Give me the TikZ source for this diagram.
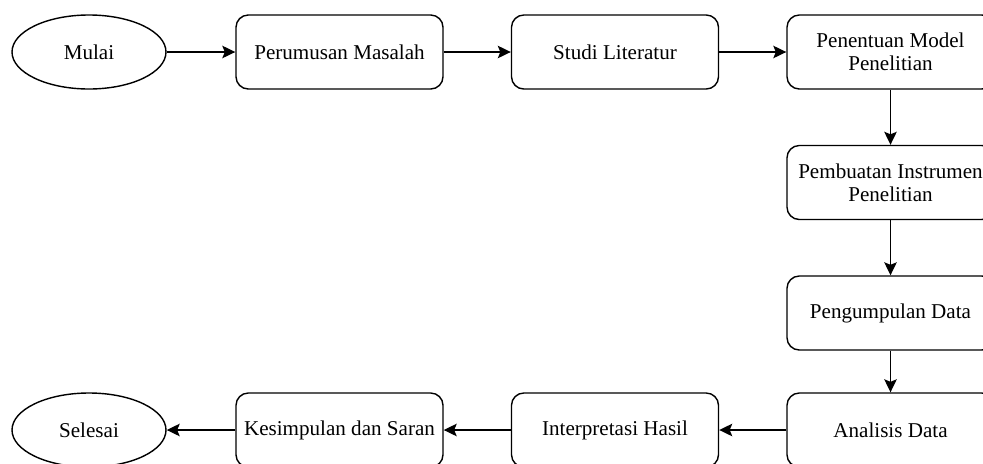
\documentclass[tikz,border=0pt]{standalone}
\usepackage{fontspec}
\setmainfont{Liberation Serif}
\usepackage{tikz}
\usetikzlibrary{arrows.meta,shapes.geometric}
\tikzset{langkah/.style={rectangle,rounded corners=7pt,draw=black,thick,minimum width=4.14cm,minimum height=1.48cm,align=center,font=\fontsize{12}{13}\selectfont}}
\tikzset{ujung/.style={ellipse,draw=black,thick,minimum width=3.08cm,minimum height=1.48cm,font=\fontsize{12}{13}\selectfont}}

\begin{document}
\begin{tikzpicture}[>={Stealth[length=2.6mm,width=2.5mm,inset=0.5mm]}]
% \draw[help lines] (0,0) grid (20,-10);
\useasboundingbox (0,0) rectangle (19.66,-9.26);
\node (mulai) [ujung] at (1.78,-1.04) {Mulai};
\node (rumus) [langkah] at (6.79,-1.04) {Perumusan Masalah};
\node (studi) [langkah] at (12.30,-1.04) {Studi Literatur};
\node (model) [langkah] at (17.81,-1.04) {Penentuan Model\\Penelitian};
\node (instrumen) [langkah] at (17.81,-3.65) {Pembuatan Instrumen\\Penelitian};
\node (kumpul) [langkah] at (17.81,-6.26) {Pengumpulan Data};
\node (analisis) [langkah] at (17.81,-8.60) {Analisis Data};
\node (interpretasi) [langkah] at (12.30,-8.60) {Interpretasi Hasil};
\node (kesimpulan) [langkah] at (6.79,-8.60) {Kesimpulan dan Saran};
\node (selesai) [ujung] at (1.78,-8.60) {Selesai};
%
\path[->,line width=0.8pt](mulai) edge (rumus);
\path[->,line width=0.8pt](rumus) edge (studi);
\path[->,line width=0.8pt](studi) edge (model);
\path[->,line width=0.8pt](model) edge (instrumen);
\path[->,line width=0.8pt](instrumen) edge (kumpul);
\path[->,line width=0.8pt](kumpul) edge (analisis);
\path[->,line width=0.8pt](analisis) edge (interpretasi);
\path[->,line width=0.8pt](interpretasi) edge (kesimpulan);
\path[->,line width=0.8pt](kesimpulan) edge (selesai);
\end{tikzpicture}
\end{document}
